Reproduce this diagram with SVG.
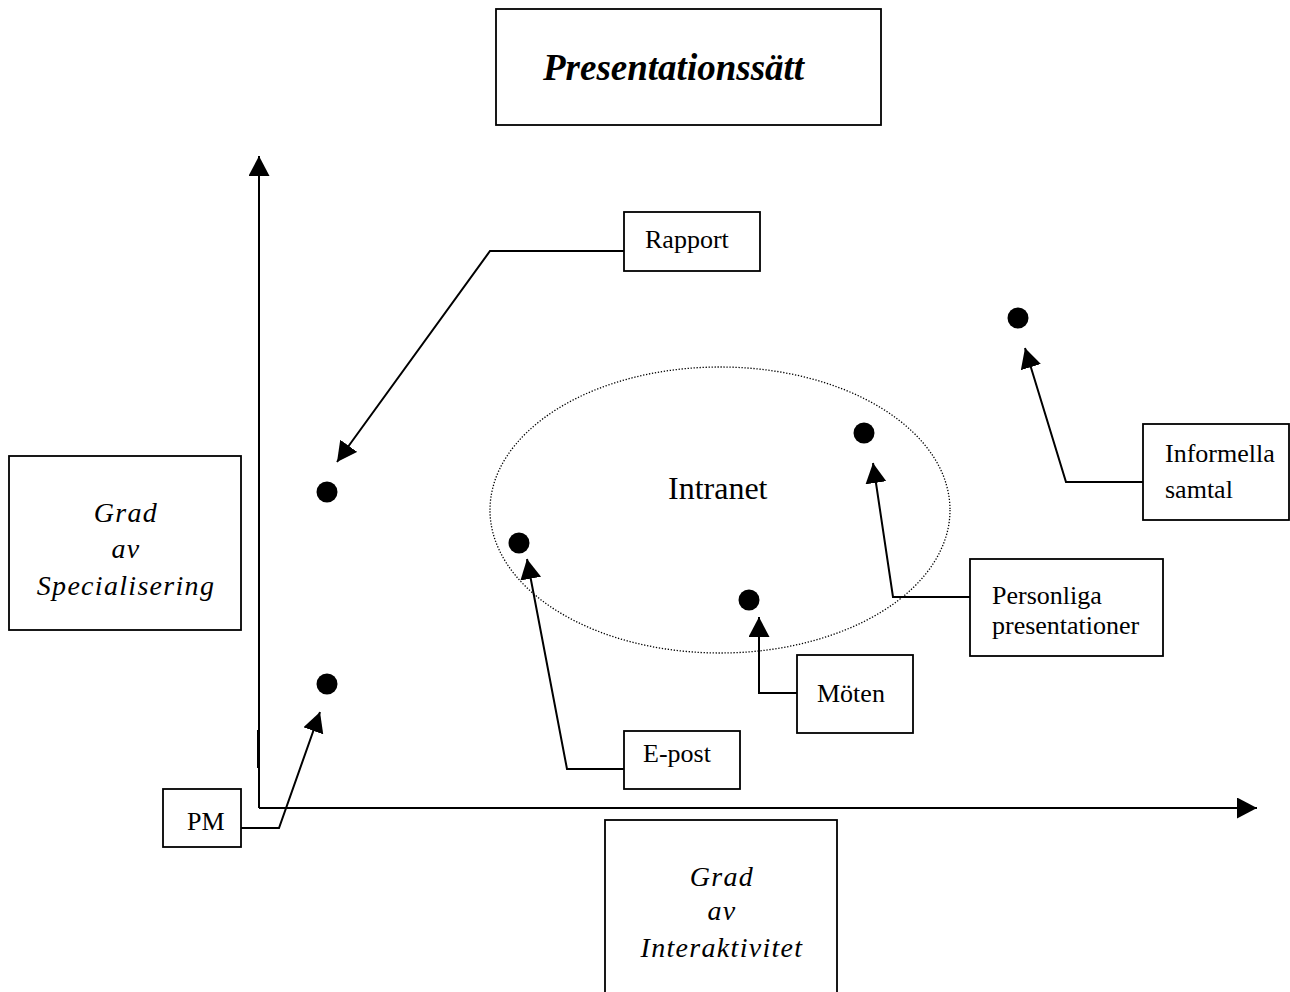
<svg xmlns="http://www.w3.org/2000/svg" width="1290" height="992" viewBox="0 0 1290 992">
<style>
.box{fill:#fff;stroke:#000;stroke-width:1.8}
.ln{fill:none;stroke:#000;stroke-width:2}
.dot{fill:#000}
.t{font-family:"Liberation Serif","Times New Roman",serif;font-size:26px;fill:#000}
.it{font-style:italic;font-size:28px;letter-spacing:1.3px}
.c{text-anchor:middle}
</style>
<defs>
<marker id="ah" markerUnits="userSpaceOnUse" markerWidth="22" markerHeight="22" refX="20" refY="10.5" orient="auto">
<path d="M0,0 L20,10.5 L0,21 z" fill="#000"/>
</marker>
</defs>
<rect width="1290" height="992" fill="#fff"/>

<g id="title">
<rect class="box" x="496" y="9" width="385" height="116"/>
<text class="t" x="543" y="80" style="font-size:37px;font-weight:bold;font-style:italic">Presentationssätt</text>
</g>

<g id="intranet">
<ellipse cx="720" cy="510" rx="230" ry="143" fill="none" stroke="#000" stroke-width="1.3" stroke-dasharray="1.3 1.7"/>
<text class="t" x="668" y="499" style="font-size:32px">Intranet</text>
</g>

<g id="axes">
<line class="ln" x1="259" y1="808" x2="259" y2="156" marker-end="url(#ah)"/>
<line class="ln" x1="259" y1="808" x2="1257" y2="808" marker-end="url(#ah)"/>
<line x1="257.5" y1="730" x2="257.5" y2="768" stroke="#000" stroke-width="1"/>
</g>

<g id="y-label">
<rect class="box" x="9" y="456" width="232" height="174"/>
<text class="t it c" x="126" y="522">Grad</text>
<text class="t it c" x="126" y="558">av</text>
<text class="t it c" x="126" y="595">Specialisering</text>
</g>

<g id="x-label">
<rect class="box" x="605" y="820" width="232" height="190"/>
<text class="t it c" x="722" y="886">Grad</text>
<text class="t it c" x="722" y="920">av</text>
<text class="t it c" x="722" y="957">Interaktivitet</text>
</g>

<g id="dots">
<circle class="dot" cx="327" cy="492" r="10.5"/>
<circle class="dot" cx="327" cy="684" r="10.5"/>
<circle class="dot" cx="519" cy="543" r="10.5"/>
<circle class="dot" cx="749" cy="600" r="10.5"/>
<circle class="dot" cx="864" cy="433" r="10.5"/>
<circle class="dot" cx="1018" cy="318" r="10.5"/>
</g>

<g id="rapport">
<rect class="box" x="624" y="212" width="136" height="59"/>
<text class="t" x="645" y="248">Rapport</text>
</g>

<g id="pm">
<rect class="box" x="163" y="789" width="78" height="58"/>
<text class="t" x="187" y="830">PM</text>
</g>

<g id="epost">
<rect class="box" x="624" y="731" width="116" height="58"/>
<text class="t" x="643" y="762">E-post</text>
</g>

<g id="moten">
<rect class="box" x="797" y="655" width="116" height="78"/>
<text class="t" x="817" y="702">Möten</text>
</g>

<g id="personliga">
<rect class="box" x="970" y="559" width="193" height="97"/>
<text class="t" x="992" y="604">Personliga</text>
<text class="t" x="992" y="634">presentationer</text>
</g>

<g id="informella">
<rect class="box" x="1143" y="424" width="146" height="96"/>
<text class="t" x="1165" y="462">Informella</text>
<text class="t" x="1165" y="498">samtal</text>
</g>

<g id="connectors">
<polyline class="ln" points="624,251 490,251 337,462" marker-end="url(#ah)"/>
<polyline class="ln" points="241,828 279,828 320,712" marker-end="url(#ah)"/>
<polyline class="ln" points="624,769 567,769 527,559" marker-end="url(#ah)"/>
<polyline class="ln" points="797,693 759,693 759,617" marker-end="url(#ah)"/>
<polyline class="ln" points="970,597 893,597 873,463" marker-end="url(#ah)"/>
<polyline class="ln" points="1143,482 1066,482 1025,348" marker-end="url(#ah)"/>
</g>
</svg>
